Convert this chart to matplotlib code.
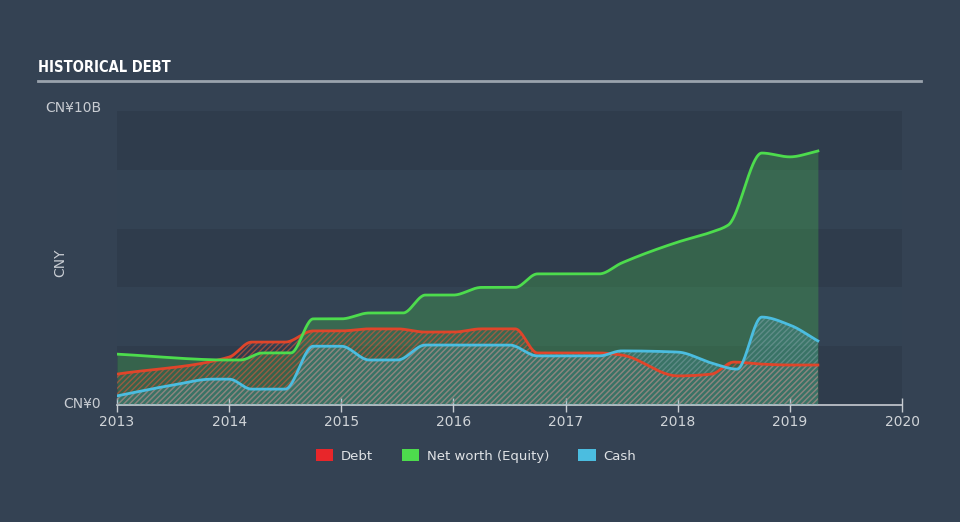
import numpy as np
import matplotlib
matplotlib.use("Agg")
import matplotlib.pyplot as plt
from matplotlib.patches import Patch

# ---- data (CNY billions) ----
eq_x = [2013.0, 2014.0, 2014.1, 2014.3, 2014.55, 2014.75, 2015.0, 2015.25, 2015.55, 2015.75,
        2016.0, 2016.25, 2016.55, 2016.75, 2017.0, 2017.3, 2017.5, 2018.0, 2018.3, 2018.45,
        2018.75, 2019.0, 2019.25]
eq_y = [1.73, 1.53, 1.53, 1.77, 1.77, 2.93, 2.93, 3.13, 3.13, 3.74,
        3.74, 4.0, 4.0, 4.46, 4.46, 4.46, 4.83, 5.54, 5.88, 6.12,
        8.57, 8.44, 8.64]

debt_x = [2013.0, 2014.0, 2014.2, 2014.5, 2014.75, 2015.0, 2015.25, 2015.5, 2015.75, 2016.0,
          2016.25, 2016.55, 2016.75, 2017.0, 2017.3, 2017.5, 2018.0, 2018.3, 2018.5, 2018.75,
          2019.0, 2019.25]
debt_y = [1.05, 1.63, 2.14, 2.14, 2.52, 2.52, 2.59, 2.59, 2.48, 2.48,
          2.59, 2.59, 1.77, 1.77, 1.77, 1.70, 0.99, 1.05, 1.46, 1.39,
          1.36, 1.36]

cash_x = [2013.0, 2013.5, 2013.85, 2014.0, 2014.2, 2014.5, 2014.75, 2015.0, 2015.25, 2015.5,
          2015.75, 2016.0, 2016.5, 2016.75, 2017.0, 2017.3, 2017.5, 2018.0, 2018.3, 2018.53,
          2018.75, 2019.0, 2019.25]
cash_y = [0.31, 0.68, 0.88, 0.88, 0.54, 0.54, 2.0, 2.0, 1.53, 1.53,
          2.04, 2.04, 2.04, 1.67, 1.67, 1.67, 1.84, 1.80, 1.43, 1.22,
          2.99, 2.72, 2.18]

year_ticks = [2013, 2014, 2015, 2016, 2017, 2018, 2019, 2020]
legend_labels = ["Debt", "Net worth (Equity)", "Cash"]


def pchip(x, y, xs):
    x = np.asarray(x, float); y = np.asarray(y, float)
    h = np.diff(x); d = np.diff(y) / h
    n = len(x); m = np.zeros(n)
    for k in range(1, n - 1):
        if d[k - 1] * d[k] > 0:
            w1 = 2 * h[k] + h[k - 1]; w2 = h[k] + 2 * h[k - 1]
            m[k] = (w1 + w2) / (w1 / d[k - 1] + w2 / d[k])
    m[0] = d[0]
    m[-1] = d[-1]
    idx = np.clip(np.searchsorted(x, xs) - 1, 0, n - 2)
    t = (xs - x[idx]) / h[idx]
    h00 = 2 * t**3 - 3 * t**2 + 1; h10 = t**3 - 2 * t**2 + t
    h01 = -2 * t**3 + 3 * t**2; h11 = t**3 - t**2
    return h00 * y[idx] + h10 * h[idx] * m[idx] + h01 * y[idx + 1] + h11 * h[idx] * m[idx + 1]


BG = "#344253"
fig = plt.figure(figsize=(9.6, 5.22), dpi=100, facecolor=BG)
ax = fig.add_axes([117 / 960, 1 - 405 / 522, (902 - 117) / 960, (405 - 111) / 522])
ax.set_facecolor(BG)
ax.set_xlim(2013, 2020)
ax.set_ylim(0, 10)

# stripes
band_cols = ["#2f3c4c", "#334253"]
for i in range(5):
    ax.axhspan(i * 2, i * 2 + 2, color=band_cols[i % 2], lw=0, zorder=0)

matplotlib.rcParams['hatch.linewidth'] = 1.0

xs = np.linspace(2013, 2019.25, 800)
eq = pchip(eq_x, eq_y, xs)
de = pchip(debt_x, debt_y, xs)
ca = pchip(cash_x, cash_y, xs)

GREEN = "#4ddc4d"; RED = "#e8262a"; BLUE = "#4bbde0"
ax.fill_between(xs, 0, eq, color="#47c04f", alpha=0.3, lw=0, zorder=1)
ax.fill_between(xs, 0, de, facecolor="none", edgecolor="#d9573a", hatch="//////", lw=0, alpha=0.6, zorder=2)
ax.fill_between(xs, 0, ca, facecolor=BLUE, alpha=0.18, lw=0, zorder=3)
ax.fill_between(xs, 0, ca, facecolor="none", edgecolor="#8aa6ab", hatch="//////", lw=0, alpha=0.45, zorder=3)

ax.plot(xs, eq, color=GREEN, lw=2, zorder=5)
ax.plot(xs, de, color="#e0452a", lw=2, zorder=4)
ax.plot(xs, ca, color=BLUE, lw=2, zorder=6)

for s in ["top", "right", "left"]:
    ax.spines[s].set_visible(False)
ax.spines["bottom"].set_color("#c8ccd2")
ax.spines["bottom"].set_linewidth(1.2)
ax.set_xticks(year_ticks)
ax.set_xticklabels([str(y) for y in year_ticks])
ax.tick_params(axis="x", direction="inout", length=10, color="#c8ccd2", labelcolor="#d0d4d8",
               labelsize=10, pad=2, width=1)
ax.set_yticks([])

fig.text(101 / 960, 1 - 108 / 522, "CN¥10B", color="#c8ccd2", fontsize=10, ha="right", va="center")
fig.text(101 / 960, 1 - 404 / 522, "CN¥0", color="#c8ccd2", fontsize=10, ha="right", va="center")
fig.text(60 / 960, 1 - 263 / 522, "CNY", color="#c8ccd2", fontsize=10, ha="center", va="center", rotation=90)

fig.text(38 / 960, 1 - 68 / 522, "HISTORICAL DEBT", color="white", fontsize=10.5, fontweight="bold",
         family="DejaVu Sans", fontstretch="condensed", ha="left", va="center")
fig.add_artist(plt.Line2D([38 / 960, 921 / 960], [1 - 81 / 522, 1 - 81 / 522], color="#9aa3ad", lw=2))

handles = [Patch(facecolor=RED), Patch(facecolor=GREEN), Patch(facecolor=BLUE)]
leg = fig.legend(handles, legend_labels, loc="center", bbox_to_anchor=(476 / 960, 1 - 456 / 522), ncol=3,
                 frameon=False, fontsize=9.5, labelcolor="#e0e3e6", handlelength=1.3, handleheight=1.0,
                 columnspacing=2.2, handletextpad=0.6)

fig.savefig("out.png", dpi=100, facecolor=BG)
